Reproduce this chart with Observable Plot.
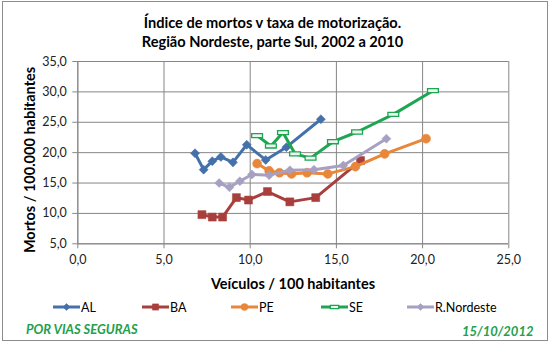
<!DOCTYPE html>
<html><head><meta charset="utf-8">
<script src="https://cdn.jsdelivr.net/npm/d3@7"></script>
<script src="https://cdn.jsdelivr.net/npm/@observablehq/plot@0.6"></script>
<style>
html,body{margin:0;padding:0;background:#fff;}
#wrap{position:relative;width:549px;height:342px;overflow:hidden;font-family:Lato,"Open Sans",sans-serif;}
#frame{position:absolute;left:2px;top:1px;width:544px;height:338px;border:1px solid #8c8c8c;box-sizing:content-box;}
#chart{position:absolute;left:0;top:0;}
.t{position:absolute;white-space:nowrap;}
#title{left:0;width:545px;text-align:center;top:13px;font-weight:bold;font-size:14.6px;line-height:19px;color:#000;}
#ylab{left:29px;top:160px;transform:translate(-50%,-50%) rotate(-90deg);font-weight:bold;font-size:14.5px;color:#000;}
#xlab{left:293px;top:283px;transform:translate(-50%,-50%);font-weight:bold;font-size:14.5px;color:#000;}
#legend{left:0;top:298px;height:18px;}
.li{position:absolute;top:0;display:flex;align-items:center;font-size:12.5px;color:#000;}
#foot1{left:26px;top:321px;font-weight:bold;font-style:italic;font-size:13px;color:#22a04d;}
#foot2{left:462px;top:323px;font-style:italic;font-size:13px;color:#22a04d;font-weight:bold;}
</style></head>
<body>
<div id="wrap">
  <div id="chart"></div>
  <div id="frame"></div>
  <div class="t" id="title">Índice de mortos v taxa de motorização.<br>Região Nordeste, parte Sul, 2002 a 2010</div>
  <div class="t" id="ylab">Mortos / 100.000 habitantes</div>
  <div class="t" id="xlab">Veículos / 100 habitantes</div>
  <div class="t" id="legend"></div>
  <div class="t" id="foot1">POR VIAS SEGURAS</div>
  <div class="t" id="foot2">15/10/2012</div>
</div>
<script>
// ---- data ----
const series = ["AL", "BA", "PE", "SE", "R.Nordeste"];
const AL_x = [6.8, 7.3, 7.8, 8.3, 9.0, 9.8, 10.9, 12.1, 14.1];
const AL_y = [19.9, 17.2, 18.6, 19.3, 18.4, 21.3, 18.8, 20.9, 25.5];
const BA_x = [7.2, 7.8, 8.4, 9.2, 9.9, 11.0, 12.3, 13.8, 16.4];
const BA_y = [9.8, 9.4, 9.4, 12.6, 12.2, 13.6, 11.9, 12.6, 18.7];
const PE_x = [10.4, 11.1, 11.7, 12.4, 13.3, 14.5, 16.1, 17.8, 20.2];
const PE_y = [18.2, 17.0, 16.7, 16.5, 16.7, 16.5, 17.7, 19.8, 22.3];
const SE_x = [10.4, 11.2, 11.9, 12.6, 13.5, 14.8, 16.2, 18.3, 20.6];
const SE_y = [22.8, 21.1, 23.3, 19.8, 19.1, 21.8, 23.4, 26.3, 30.2];
const RN_x = [8.2, 8.8, 9.4, 10.1, 11.1, 12.3, 13.7, 15.4, 17.9];
const RN_y = [15.0, 14.3, 15.3, 16.4, 16.3, 17.1, 17.2, 17.9, 22.3];
const xTicks = [0, 5, 10, 15, 20, 25];
const yTicks = [5, 10, 15, 20, 25, 30, 35];

const xs = [AL_x, BA_x, PE_x, SE_x, RN_x];
const ys = [AL_y, BA_y, PE_y, SE_y, RN_y];
const colors = ["#4571aa", "#a93f3c", "#e8873a", "#1ea552", "#a7a0c2"];

const dash = {draw(ctx, size) { const w = Math.sqrt(size) * 1.5, h = w * 0.38; ctx.rect(-w/2, -h/2, w, h); }};
const symbols = ["diamond2", "square", "circle", dash, "diamond2"];
const symSize = [52, 64, 64, 52, 52];
const symTypes = [d3.symbolDiamond2, d3.symbolSquare, d3.symbolCircle, dash, d3.symbolDiamond2];

const rows = series.flatMap((s, i) => xs[i].map((x, j) => ({serie: s, x, y: ys[i][j]})));
const fmt = d => d.toFixed(1).replace(".", ",");

const marks = [
  Plot.gridX(xTicks, {stroke: "#868686", strokeOpacity: 1}),
  Plot.gridY(yTicks, {stroke: "#868686", strokeOpacity: 1}),
  Plot.axisX(xTicks, {tickFormat: fmt, tickSize: 5, tickPadding: 6, stroke: "#868686", fill: "#222"}),
  Plot.axisY(yTicks, {tickFormat: fmt, tickSize: 5, tickPadding: 6, stroke: "#868686", fill: "#222"}),
  Plot.ruleX([0], {stroke: "#868686"}),
  Plot.ruleY([5], {stroke: "#868686"})
];
series.forEach((s, i) => {
  const d = rows.filter(r => r.serie === s);
  marks.push(Plot.line(d, {x: "x", y: "y", stroke: colors[i], strokeWidth: 3, curve: "linear"}));
  marks.push(Plot.dot(d, {x: "x", y: "y", symbol: () => symbols[i], r: Math.sqrt(symSize[i] / Math.PI),
    fill: i === 3 ? "#e9f7ee" : colors[i], stroke: colors[i], strokeWidth: i === 3 ? 1.3 : 0.5}));
});

const chart = Plot.plot({
  width: 549, height: 342,
  marginLeft: 77.3, marginRight: 40.7, marginTop: 61, marginBottom: 98.7,
  x: {domain: [0, 25], label: null},
  y: {domain: [5, 35], label: null},
  style: {fontFamily: "Lato, 'Open Sans', sans-serif", fontSize: "12.5px", background: "transparent", color: "#222"},
  marks
});
document.getElementById("chart").appendChild(chart);

// ---- legend ----
const legPos = [53, 142, 231, 321, 407];
const leg = d3.select("#legend");
series.forEach((s, i) => {
  const item = leg.append("div").attr("class", "li").style("left", legPos[i] + "px");
  const svg = item.append("svg").attr("width", 27).attr("height", 18);
  svg.append("line").attr("x1", 0).attr("x2", 27).attr("y1", 9).attr("y2", 9)
    .attr("stroke", colors[i]).attr("stroke-width", 3);
  svg.append("path").attr("transform", "translate(13.5,9)")
    .attr("d", d3.symbol(symTypes[i], symSize[i] * 0.6)())
    .attr("fill", i === 3 ? "#e9f7ee" : colors[i]).attr("stroke", colors[i]).attr("stroke-width", i === 3 ? 1.3 : 0.5);
  item.append("span").text(s).style("margin-left", "1px");
});
</script>
</body></html>
